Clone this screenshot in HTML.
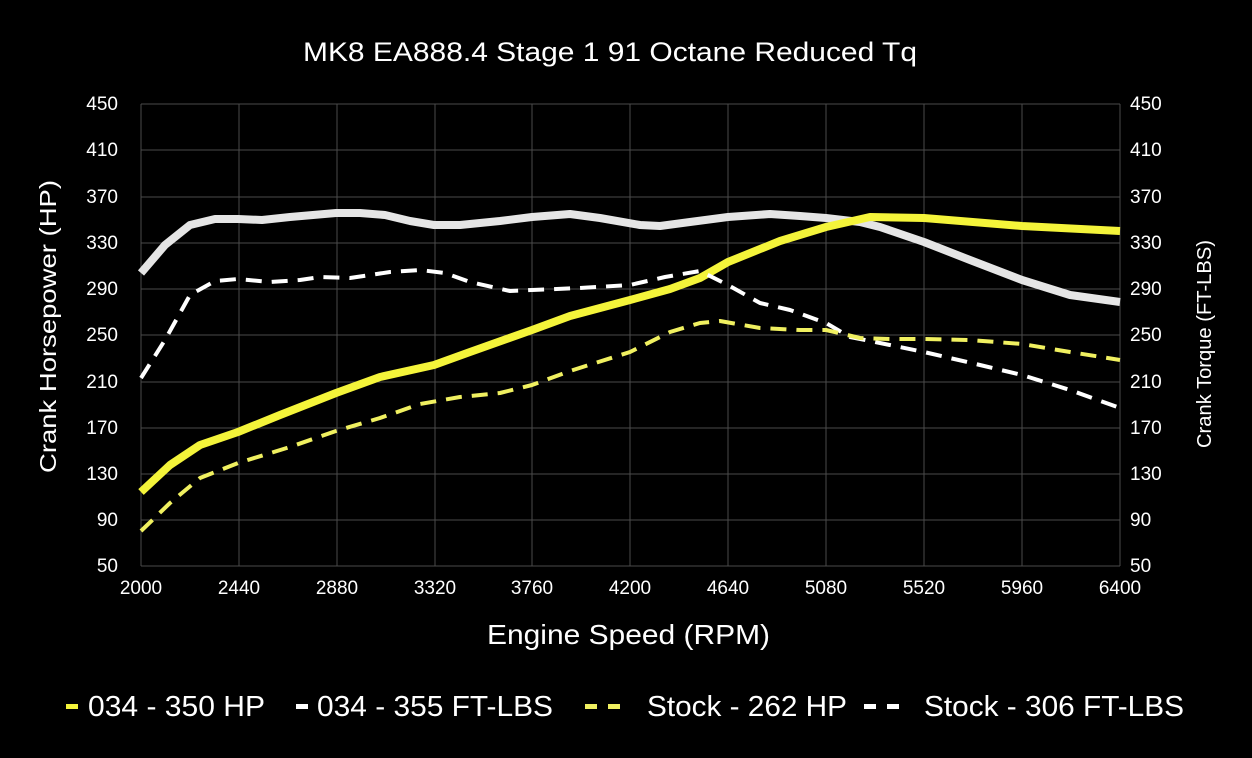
<!DOCTYPE html>
<html><head><meta charset="utf-8"><style>
html,body{margin:0;padding:0;background:#000;}
svg{display:block;font-family:"Liberation Sans",Arial,sans-serif;}
</style></head><body>
<svg width="1252" height="758" viewBox="0 0 1252 758">
<rect width="1252" height="758" fill="#000"/>
<text x="303" y="61" fill="#fff" font-size="27" textLength="614" lengthAdjust="spacingAndGlyphs">MK8 EA888.4 Stage 1 91 Octane Reduced Tq</text>
<g stroke="#4a4a4a" stroke-width="1">
<line x1="141" y1="104" x2="1120" y2="104"/><line x1="141" y1="150" x2="1120" y2="150"/>
<line x1="141" y1="197" x2="1120" y2="197"/><line x1="141" y1="243" x2="1120" y2="243"/>
<line x1="141" y1="289" x2="1120" y2="289"/><line x1="141" y1="335" x2="1120" y2="335"/>
<line x1="141" y1="382" x2="1120" y2="382"/><line x1="141" y1="428" x2="1120" y2="428"/>
<line x1="141" y1="474" x2="1120" y2="474"/><line x1="141" y1="520" x2="1120" y2="520"/>
<line x1="141" y1="566" x2="1120" y2="566"/>
<line x1="141" y1="104" x2="141" y2="566"/><line x1="239" y1="104" x2="239" y2="566"/>
<line x1="337" y1="104" x2="337" y2="566"/><line x1="435" y1="104" x2="435" y2="566"/>
<line x1="532" y1="104" x2="532" y2="566"/><line x1="630" y1="104" x2="630" y2="566"/>
<line x1="728" y1="104" x2="728" y2="566"/><line x1="826" y1="104" x2="826" y2="566"/>
<line x1="924" y1="104" x2="924" y2="566"/><line x1="1022" y1="104" x2="1022" y2="566"/>
<line x1="1120" y1="104" x2="1120" y2="566"/>
</g>
<g fill="#fff" font-size="19" text-anchor="end">
<text x="118" y="110">450</text><text x="118" y="156">410</text><text x="118" y="203">370</text>
<text x="118" y="249">330</text><text x="118" y="295">290</text><text x="118" y="341">250</text>
<text x="118" y="388">210</text><text x="118" y="434">170</text><text x="118" y="480">130</text>
<text x="118" y="526">90</text><text x="118" y="572">50</text>
</g>
<g fill="#fff" font-size="19" text-anchor="start">
<text x="1130" y="110">450</text><text x="1130" y="156">410</text><text x="1130" y="203">370</text>
<text x="1130" y="249">330</text><text x="1130" y="295">290</text><text x="1130" y="341">250</text>
<text x="1130" y="388">210</text><text x="1130" y="434">170</text><text x="1130" y="480">130</text>
<text x="1130" y="526">90</text><text x="1130" y="572">50</text>
</g>
<g fill="#fff" font-size="19" text-anchor="middle">
<text x="141" y="594">2000</text><text x="239" y="594">2440</text><text x="337" y="594">2880</text>
<text x="435" y="594">3320</text><text x="532" y="594">3760</text><text x="630" y="594">4200</text>
<text x="728" y="594">4640</text><text x="826" y="594">5080</text><text x="924" y="594">5520</text>
<text x="1022" y="594">5960</text><text x="1120" y="594">6400</text>
</g>
<text x="487" y="644" fill="#fff" font-size="28" textLength="283" lengthAdjust="spacingAndGlyphs">Engine Speed (RPM)</text>
<text transform="translate(56,473) rotate(-90)" fill="#fff" font-size="23" textLength="293" lengthAdjust="spacingAndGlyphs">Crank Horsepower (HP)</text>
<text transform="translate(1211,448) rotate(-90)" fill="#fff" font-size="20" textLength="208" lengthAdjust="spacingAndGlyphs">Crank Torque (FT-LBS)</text>
<g fill="none" stroke-linejoin="round" stroke-linecap="butt">
<polyline stroke="#e5e5e5" stroke-width="8" points="141,273 165,245 190,225 215,219 238,219 262,220 290,217 336,213 360,213 385,215 410,221 434,225 460,225 500,221 532,217 570,214 600,218 640,225 660,226 690,222 728,217 770,214 800,216 826,218 860,222 880,227 924,242 970,260 1022,280 1070,295 1120,302"/>
<polyline stroke="#f4f43a" stroke-width="8" points="141,492 170,465 200,445 238,432 280,415 336,393 380,377 434,365 470,352 532,330 570,316 630,300 670,289 700,278 728,262 780,241 826,227 870,217 924,218 1022,226 1120,231"/>
<polyline stroke="#fff" stroke-width="4" stroke-dasharray="16,10" points="141,378 165,340 190,295 215,281 238,279 270,282 300,280 320,277 350,278 390,272 420,270 445,273 470,282 510,291 532,290 580,288 630,285 665,277 700,271 728,285 760,303 790,310 826,323 850,337 880,343 924,352 980,365 1022,375 1070,390 1120,408"/>
<polyline stroke="#f0f060" stroke-width="4" stroke-dasharray="16,10" points="141,531 170,503 200,478 238,463 290,447 336,431 380,418 420,404 460,397 500,393 532,385 570,371 630,352 670,332 700,323 720,321 760,328 800,330 826,330 860,338 890,339 924,339 970,340 1022,344 1070,352 1120,360"/>
</g>
<g font-size="29" fill="#fff" lengthAdjust="spacingAndGlyphs">
<rect x="66" y="704" width="12" height="5" fill="#f4f43a"/>
<text x="88" y="716" textLength="177" lengthAdjust="spacingAndGlyphs">034 - 350 HP</text>
<rect x="296" y="704" width="12" height="5" fill="#fff"/>
<text x="317" y="716" textLength="236" lengthAdjust="spacingAndGlyphs">034 - 355 FT-LBS</text>
<rect x="585" y="704" width="12" height="5" fill="#f0f060"/>
<rect x="608" y="704" width="12" height="5" fill="#f0f060"/>
<text x="647" y="716" textLength="200" lengthAdjust="spacingAndGlyphs">Stock - 262 HP</text>
<rect x="864" y="704" width="12" height="5" fill="#fff"/>
<rect x="887" y="704" width="12" height="5" fill="#fff"/>
<text x="924" y="716" textLength="260" lengthAdjust="spacingAndGlyphs">Stock - 306 FT-LBS</text>
</g>
</svg>
</body></html>
